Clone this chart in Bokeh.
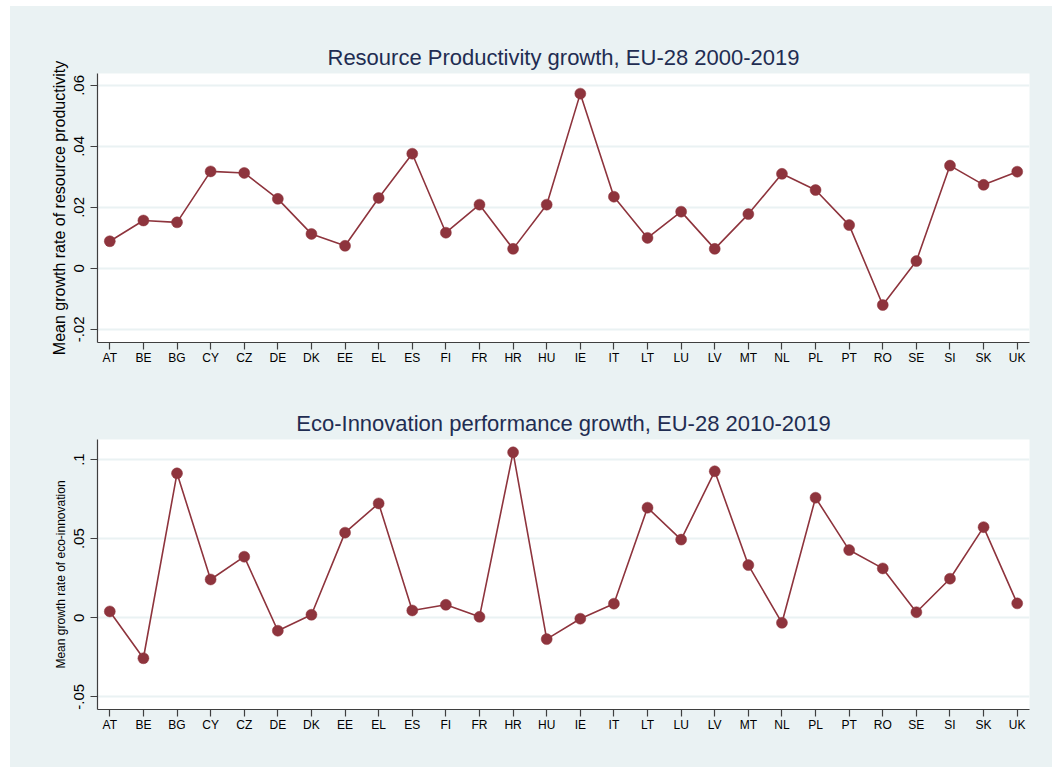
from bokeh.plotting import figure
from bokeh.models import Range1d, FixedTicker, ColumnDataSource
from bokeh.layouts import column
from bokeh.embed import file_html
from bokeh.resources import INLINE

# ---------------- data ----------------
countries = ["AT", "BE", "BG", "CY", "CZ", "DE", "DK", "EE", "EL", "ES",
             "FI", "FR", "HR", "HU", "IE", "IT", "LT", "LU", "LV", "MT",
             "NL", "PL", "PT", "RO", "SE", "SI", "SK", "UK"]

resource_growth = [0.0089, 0.0157, 0.0151, 0.0318, 0.0313, 0.0228, 0.0113,
                   0.0074, 0.0231, 0.0376, 0.0117, 0.0209, 0.0064, 0.0209,
                   0.0573, 0.0235, 0.0100, 0.0186, 0.0064, 0.0178, 0.0310,
                   0.0257, 0.0142, -0.0120, 0.0024, 0.0337, 0.0274, 0.0317]

eco_growth = [0.0040, -0.0256, 0.0913, 0.0242, 0.0386, -0.0082, 0.0019,
              0.0538, 0.0723, 0.0046, 0.0082, 0.0006, 0.1046, -0.0135,
              -0.0006, 0.0089, 0.0696, 0.0494, 0.0926, 0.0333, -0.0032,
              0.0759, 0.0428, 0.0312, 0.0035, 0.0247, 0.0573, 0.0091]

rp_ticks = [-0.02, 0.0, 0.02, 0.04, 0.06]
rp_tick_labels = ["-.02", "0", ".02", ".04", ".06"]
ei_ticks = [-0.05, 0.0, 0.05, 0.1]
ei_tick_labels = ["-.05", "0", ".05", ".1"]

rp_title = "Resource Productivity growth, EU-28 2000-2019"
ei_title = "Eco-Innovation performance growth, EU-28 2010-2019"
rp_ylabel = "Mean growth rate of resource productivity"
ei_ylabel = "Mean growth rate of eco-innovation"

# ---------------- style ----------------
BG = "#EAF2F3"
LINE = "#8E343D"
AXIS = "#3f3f3f"
FONT = "Liberation Sans"
TITLE_COLOR = "#1f2d52"
W = 1042


def make_panel(title, ylabel, ylabel_size, values, ticks, tick_labels,
               ylo, yhi, height, mb_top, mb_bottom, mb_left, mb_right):
    xs = list(range(1, len(countries) + 1))
    src = ColumnDataSource(dict(x=xs, y=values, c=countries))
    p = figure(width=W, height=height, output_backend="svg",
               toolbar_location=None, tools="",
               x_range=Range1d(0.634, len(countries) + 0.366),
               y_range=Range1d(ylo, yhi),
               min_border_top=mb_top, min_border_bottom=mb_bottom,
               min_border_left=mb_left, min_border_right=mb_right)
    p.background_fill_color = "white"
    p.border_fill_color = BG
    p.outline_line_color = None

    p.line("x", "y", source=src, line_color=LINE, line_width=1.6)
    p.scatter("x", "y", source=src, size=11, fill_color=LINE,
              line_color=LINE, line_width=0.5)

    # title
    p.title.text = title
    p.title.align = "center"
    p.title.text_font = FONT
    p.title.text_font_size = "22px"
    p.title.text_font_style = "normal"
    p.title.text_color = TITLE_COLOR
    p.title.standoff = 7

    # x axis
    xa = p.xaxis[0]
    xa.ticker = FixedTicker(ticks=xs)
    xa.major_label_overrides = {x: c for x, c in zip(xs, countries)}
    xa.major_label_text_font = FONT
    xa.major_label_text_font_size = "12px"
    xa.major_label_text_color = "black"
    xa.major_label_standoff = 1
    xa.axis_line_color = AXIS
    xa.axis_line_width = 1.2
    xa.major_tick_line_color = AXIS
    xa.major_tick_line_width = 1.2
    xa.major_tick_out = 7
    xa.major_tick_in = 0
    xa.minor_tick_line_color = None

    # y axis
    ya = p.yaxis[0]
    ya.ticker = FixedTicker(ticks=ticks)
    ya.major_label_overrides = {t: l for t, l in zip(ticks, tick_labels)}
    ya.major_label_orientation = "parallel"
    ya.major_label_text_font = FONT
    ya.major_label_text_font_size = "15px"
    ya.major_label_text_color = "black"
    ya.major_label_standoff = 6
    ya.axis_label = ylabel
    ya.axis_label_text_font = FONT
    ya.axis_label_text_font_size = ylabel_size
    ya.axis_label_text_font_style = "normal"
    ya.axis_label_text_color = "black"
    ya.axis_label_standoff = 4
    ya.axis_line_color = AXIS
    ya.axis_line_width = 1.2
    ya.major_tick_line_color = AXIS
    ya.major_tick_line_width = 1.2
    ya.major_tick_out = 7
    ya.major_tick_in = 0
    ya.minor_tick_line_color = None

    p.xgrid.grid_line_color = None
    p.ygrid.ticker = FixedTicker(ticks=ticks)
    p.ygrid.grid_line_color = BG
    p.ygrid.grid_line_width = 2
    return p


p1 = make_panel(rp_title, rp_ylabel, "16px", resource_growth, rp_ticks,
                rp_tick_labels, -0.0243, 0.0639, 384, 67, 48, 87, 23)
p2 = make_panel(ei_title, ei_ylabel, "12px", eco_growth, ei_ticks,
                ei_tick_labels, -0.058, 0.1127, 377, 49, 58, 83, 23)

layout = column(p1, p2, spacing=0, margin=(6, 0, 0, 10),
                styles={"background-color": BG})

open("out.html", "w").write(file_html(layout, INLINE))
